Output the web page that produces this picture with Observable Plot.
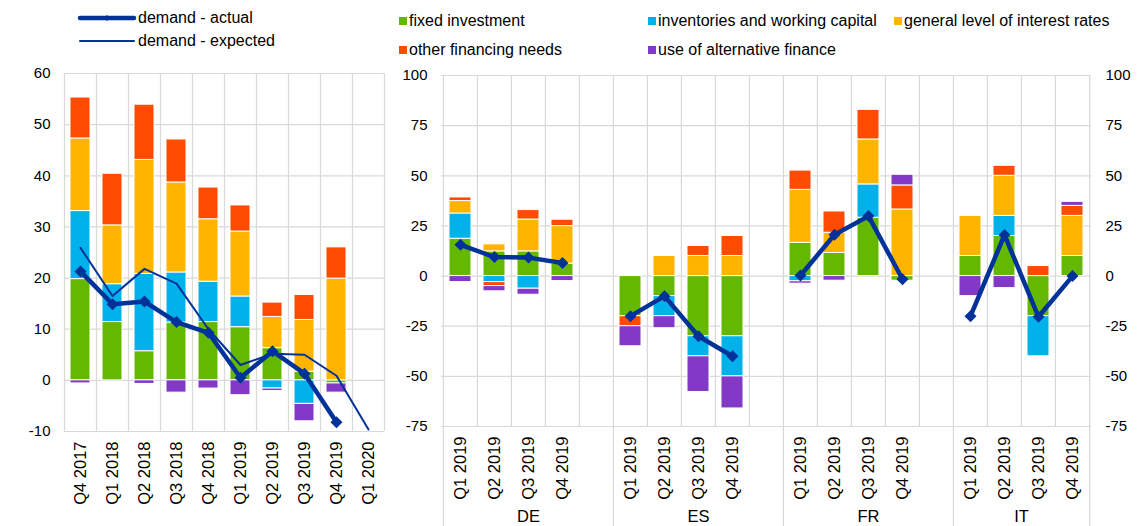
<!DOCTYPE html>
<html><head><meta charset="utf-8">
<script src="https://cdn.jsdelivr.net/npm/d3@7"></script>
<script src="https://cdn.jsdelivr.net/npm/@observablehq/plot@0.6"></script>
<style>
body{margin:0;background:#fff;font-family:"Liberation Sans",Arial,sans-serif;}
#wrap{position:relative;width:1137px;height:526px;overflow:hidden;background:#fff;}
#left,#right{position:absolute;top:0;}
#left{left:0;}
#right{left:400px;}
.leg{position:absolute;font-size:16px;color:#000;white-space:nowrap;line-height:16px;}
.sw{display:inline-block;width:8px;height:8px;margin-right:2px;vertical-align:1px;}
svg{overflow:visible;}
</style></head>
<body><div id="wrap"><div id="left"></div><div id="right"></div><div id="legend"></div></div>
<script>
// ---------- data: left panel (euro area) ----------
const leftQuarters = ["Q4 2017","Q1 2018","Q2 2018","Q3 2018","Q4 2018","Q1 2019","Q2 2019","Q3 2019","Q4 2019","Q1 2020"];
const leftFixed       = [19.8, 11.4,  5.7, 11.3, 11.4, 10.4,  6.3,  1.7, -0.6, null];
const leftInventories = [13.3,  7.4, 15.1,  9.8,  7.9,  6.0, -1.6, -4.6,  0,   null];
const leftInterest    = [14.2, 11.5, 22.3, 17.6, 12.2, 12.7,  6.1, 10.1, 19.9, null];
const leftOther       = [ 8.0, 10.1, 10.8,  8.4,  6.2,  5.1,  2.8,  4.9,  6.1, null];
const leftAlternative = [-0.6,  0,   -0.7, -2.4, -1.6, -2.9, -0.5, -3.4, -1.8, null];
const leftActual      = [21.3, 14.9, 15.4, 11.4,  9.3,  0.5,  5.7,  1.3, -8.2, null];
const leftExpected    = [25.9, 16.5, 21.8, 18.9, 10.0,  3.0,  5.2,  5.0,  0.9, -9.6];
const leftYTicks = [-10, 0, 10, 20, 30, 40, 50, 60];

// ---------- data: right panel (countries, 2019) ----------
const countries = ["DE","ES","FR","IT"];
const quarters2019 = ["Q1 2019","Q2 2019","Q3 2019","Q4 2019"];
//                      DE                      ES                     FR                        IT
const rightFixed       = [18.6, 12.3, 12.3,  6.2, -20, -10, -30,   -30, 16.6, 11.5, 29.1, -2.3, 10, 20, -20, 10];
const rightInventories = [12.6, -3.0, -6.3,  0,     0, -10, -10,   -20, -2.6,  0,   16.6,  0,    0, 10, -20,  0];
const rightInterest    = [ 6.2,  3.5, 15.9, 18.7,   0,  10,  10,    10, 26.4, 10.1, 22.4, 33.2, 20, 20,   0, 20];
const rightOther       = [ 1.8, -2.0,  4.7,  3.2,  -5,   0,   5,    10,  9.6, 10.6, 14.8, 12.0,  0,  5,   5,  5];
const rightAlternative = [-3.0, -2.6, -3.0, -2.5, -10,  -6, -17.8, -16, -1.2, -2.3,  0,    5.3,-10, -6,   0,  2];
const rightActual      = [15.6,  9.5,  9.2,  6.5, -20, -10, -30,   -40,  0.3, 20.6, 29.9, -1.6,-20, 20.5,-20.3, 0];
const rightYTicks = [-75, -50, -25, 0, 25, 50, 75, 100];

const seriesNames = ["fixed investment","inventories and working capital","general level of interest rates","other financing needs","use of alternative finance"];
const seriesColors = ["#65B800","#00B1EA","#FFB400","#FF4B00","#8139C6"];
const lineNames = ["demand - actual","demand - expected"];
const lineColor = "#003299";
const GRID = "#d9d9d9";
const FONT = "Liberation Sans, Arial, sans-serif";

// ---------- left panel ----------
const leftSeries = [leftFixed, leftInventories, leftInterest, leftOther, leftAlternative];
const leftRows = [];
leftQuarters.forEach((q, i) => leftSeries.forEach((arr, k) => {
  const v = arr[i]; if (v) leftRows.push({q, s: seriesNames[k], v});
}));
const leftAct = leftQuarters.map((q, i) => ({q, v: leftActual[i]})).filter(d => d.v != null);
const leftExp = leftQuarters.map((q, i) => ({q, v: leftExpected[i]})).filter(d => d.v != null);

const LW = 400, LH = 526, LML = 64, LMR = 16, LMT = 73, LMB = 95;
const lstep = (LW - LML - LMR) / leftQuarters.length;
const left = Plot.plot({
  width: LW, height: LH, marginLeft: LML, marginRight: LMR, marginTop: LMT, marginBottom: LMB,
  style: {fontFamily: FONT, fontSize: "15px", color: "#000", background: "transparent"},
  x: {type: "band", domain: leftQuarters, paddingInner: 0.37, paddingOuter: 0.185, label: null},
  y: {domain: [-10, 60], label: null},
  color: {domain: seriesNames, range: seriesColors},
  marks: [
    Plot.ruleY(leftYTicks, {stroke: GRID, strokeWidth: 1.2}),
    Plot.ruleX(leftQuarters, {x: d => d, dx: -lstep / 2, stroke: GRID, strokeWidth: 1.2}),
    Plot.ruleX(leftQuarters.slice(-1), {x: d => d, dx: lstep / 2, stroke: GRID, strokeWidth: 1.2}),
    Plot.barY(leftRows, {x: "q", y: "v", fill: "s", stroke: "white", strokeWidth: 1}),
    Plot.line(leftExp, {x: "q", y: "v", stroke: lineColor, strokeWidth: 2}),
    Plot.line(leftAct, {x: "q", y: "v", stroke: lineColor, strokeWidth: 4.5}),
    Plot.dot(leftAct, {x: "q", y: "v", symbol: "diamond2", r: 5.4, fill: lineColor}),
    Plot.axisY(leftYTicks, {tickSize: 0, tickPadding: 14, tickFormat: d => String(d), label: null}),
    Plot.axisX({tickSize: 0, tickRotate: -90, tickPadding: 10, fontSize: 16.5, label: null})
  ]
});
document.getElementById("left").append(left);

// ---------- right panel ----------
const keyOf = (c, q) => c + "|" + q;
const rightDomain = [];
countries.forEach((c, ci) => {
  quarters2019.forEach(q => rightDomain.push(keyOf(c, q)));
  if (ci < countries.length - 1) rightDomain.push("gap" + ci);
});
const rightSeries = [rightFixed, rightInventories, rightInterest, rightOther, rightAlternative];
const rightRows = [], rightAct = [];
countries.forEach((c, ci) => quarters2019.forEach((q, qi) => {
  const i = ci * 4 + qi;
  rightSeries.forEach((arr, k) => { const v = arr[i]; if (v) rightRows.push({key: keyOf(c, q), s: seriesNames[k], v}); });
  rightAct.push({key: keyOf(c, q), c, v: rightActual[i]});
}));

const RW = 737, RH = 526, RML = 41, RMR = 46, RMT = 75, RMB = 100;
const rstep = (RW - RML - RMR) / rightDomain.length;
const yMin = rightYTicks[0];
const groupStarts = countries.map(c => keyOf(c, quarters2019[0]));
// groups followed by a gap band are centred on their third quarter; the last group on the Q2/Q3 boundary
const fullGroups = countries.slice(0, -1).map(c => ({c, key: keyOf(c, quarters2019[2])}));
const lastGroup = countries.slice(-1).map(c => ({c, key: keyOf(c, quarters2019[1])}));

const right = Plot.plot({
  width: RW, height: RH, marginLeft: RML, marginRight: RMR, marginTop: RMT, marginBottom: RMB,
  style: {fontFamily: FONT, fontSize: "15px", color: "#000", background: "transparent"},
  x: {type: "band", domain: rightDomain, paddingInner: 0.34, paddingOuter: 0.17, label: null},
  y: {domain: [-75, 100], label: null},
  color: {domain: seriesNames, range: seriesColors},
  marks: [
    Plot.ruleY(rightYTicks, {stroke: GRID, strokeWidth: 1.2}),
    Plot.ruleX(rightDomain, {x: d => d, dx: -rstep / 2, stroke: GRID, strokeWidth: 1.2}),
    Plot.ruleX(rightDomain.slice(-1), {x: d => d, dx: rstep / 2, stroke: GRID, strokeWidth: 1.2}),
    // group separators under the axis
    Plot.ruleX(groupStarts, {x: d => d, dx: -rstep / 2, y1: yMin, y2: yMin - 50, stroke: GRID, strokeWidth: 1.2}),
    Plot.ruleX(rightDomain.slice(-1), {x: d => d, dx: rstep / 2, y1: yMin, y2: yMin - 50, stroke: GRID, strokeWidth: 1.2}),
    Plot.barY(rightRows, {x: "key", y: "v", fill: "s", stroke: "white", strokeWidth: 1}),
    Plot.line(rightAct, {x: "key", y: "v", z: "c", stroke: lineColor, strokeWidth: 4.5}),
    Plot.dot(rightAct, {x: "key", y: "v", symbol: "diamond2", r: 5.4, fill: lineColor}),
    Plot.axisY(rightYTicks, {anchor: "left", tickSize: 0, tickPadding: 14, tickFormat: d => String(d), label: null}),
    Plot.axisY(rightYTicks, {anchor: "right", tickSize: 0, tickPadding: 14, tickFormat: d => String(d), label: null}),
    Plot.axisX({tickSize: 0, tickRotate: -90, tickPadding: 10, fontSize: 16.5, label: null,
      tickFormat: d => d.startsWith("gap") ? "" : d.split("|")[1]}),
    Plot.text(fullGroups, {x: "key", y: () => yMin, dy: 90, text: "c", fontSize: 16.5}),
    Plot.text(lastGroup, {x: "key", y: () => yMin, dx: rstep / 2, dy: 90, text: "c", fontSize: 16.5})
  ]
});
document.getElementById("right").append(right);

// ---------- legends ----------
const legend = document.getElementById("legend");
lineNames.forEach((name, i) => {
  const d = document.createElement("div");
  d.className = "leg";
  d.style.left = "80px"; d.style.top = (i === 0 ? 10 : 33) + "px";
  const w = i === 0 ? 4.5 : 2;
  d.innerHTML = `<svg width="54" height="14" style="vertical-align:-2px;margin-right:4px;overflow:visible">
    <line x1="0" x2="54" y1="7" y2="7" stroke="${lineColor}" stroke-width="${w}" stroke-linecap="round"/>
    ${i === 0 ? `<path d="M27,4L30,7L27,10L24,7Z" fill="${lineColor}"/>` : ""}</svg>${name}`;
  legend.append(d);
});
const legPos = [[399, 13], [648, 13], [894, 13], [399, 42], [648, 42]];
seriesNames.forEach((name, i) => {
  const d = document.createElement("div");
  d.className = "leg";
  d.style.left = legPos[i][0] + "px"; d.style.top = legPos[i][1] + "px";
  d.innerHTML = `<span class="sw" style="background:${seriesColors[i]}"></span>${name}`;
  legend.append(d);
});
</script>
</body></html>
